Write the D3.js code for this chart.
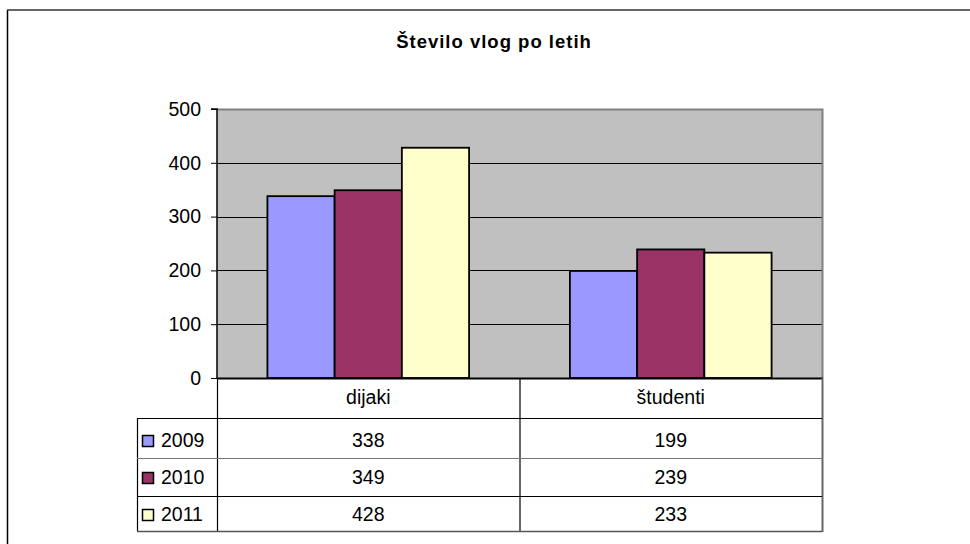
<!DOCTYPE html>
<html>
<head>
<meta charset="utf-8">
<script src="https://cdn.jsdelivr.net/npm/d3@7"></script>
<style>
  html, body { margin: 0; padding: 0; background: #fff; }
  svg { display: block; font-family: "Liberation Sans", Arial, sans-serif; }
</style>
</head>
<body>
<svg id="chart" width="970" height="544"></svg>
<script>
const title = "Število vlog po letih";
const categories = ["dijaki", "študenti"];
const seriesNames = ["2009", "2010", "2011"];
const values2009 = [338, 199];
const values2010 = [349, 239];
const values2011 = [428, 233];
const seriesColors = ["#9999FF", "#993366", "#FFFFCC"];
const yTicks = [0, 100, 200, 300, 400, 500];

const series = [
  { name: seriesNames[0], values: values2009, color: seriesColors[0] },
  { name: seriesNames[1], values: values2010, color: seriesColors[1] },
  { name: seriesNames[2], values: values2011, color: seriesColors[2] }
];

const FS = 19.5;
const svg = d3.select("#chart");

// outer frame (left + top)
svg.append("line").attr("x1", 7.5).attr("x2", 7.5).attr("y1", 10).attr("y2", 544)
  .attr("stroke", "#000").attr("stroke-width", 1.5);
svg.append("line").attr("x1", 7).attr("x2", 970).attr("y1", 10).attr("y2", 10)
  .attr("stroke", "#333").attr("stroke-width", 1.5);

// title
svg.append("text").attr("x", 494).attr("y", 48).attr("text-anchor", "middle")
  .attr("font-size", 18.5).attr("font-weight", "bold").attr("letter-spacing", 1)
  .attr("fill", "#000").text(title);

const plotL = 217, plotR = 822, plotT = 109, plotB = 378;

const x0 = d3.scaleBand().domain(categories).range([plotL, plotR]).padding(0);
const x1 = d3.scaleBand().domain(seriesNames).range([0, x0.bandwidth()])
  .paddingInner(0).paddingOuter(0.75);
const y = d3.scaleLinear().domain([0, 500]).range([plotB, plotT]);

// plot background
svg.append("rect").attr("x", plotL).attr("y", plotT)
  .attr("width", plotR - plotL).attr("height", plotB - plotT).attr("fill", "#C0C0C0");

// gridlines
svg.append("g").selectAll("line").data(yTicks.filter(t => t > 0 && t < 500)).join("line")
  .attr("x1", plotL).attr("x2", plotR)
  .attr("y1", d => Math.round(y(d)) + 0.5).attr("y2", d => Math.round(y(d)) + 0.5)
  .attr("stroke", "#000").attr("stroke-width", 1);

// plot border top/right (gray)
svg.append("path")
  .attr("d", `M${plotL},${plotT + 0.5}H${plotR + 0.5}V${plotB}`)
  .attr("fill", "none").attr("stroke", "#808080").attr("stroke-width", 2);

// bars
const groups = svg.append("g").selectAll("g").data(series).join("g")
  .attr("fill", d => d.color);
groups.selectAll("rect").data(s => categories.map((c, i) => ({ cat: c, s: s.name, v: s.values[i] })))
  .join("rect")
  .attr("x", d => x0(d.cat) + x1(d.s))
  .attr("y", d => y(d.v))
  .attr("width", x1.bandwidth())
  .attr("height", d => y(0) - y(d.v))
  .attr("stroke", "#000").attr("stroke-width", 1.8);

// y axis
const yAxis = d3.axisLeft(y).tickValues(yTicks).tickSize(6).tickPadding(10);
const yg = svg.append("g").attr("transform", `translate(${plotL},0)`).call(yAxis);
yg.select(".domain").attr("stroke", "#000").attr("stroke-width", 1.5)
  .attr("d", `M-6,${plotT}H0V${plotB}`);
yg.selectAll(".tick line").attr("stroke", "#000").attr("stroke-width", 1);
yg.selectAll(".tick text").attr("font-size", FS).attr("fill", "#000")
  .attr("font-family", "Liberation Sans, Arial, sans-serif");

// x axis baseline
svg.append("line").attr("x1", plotL).attr("x2", plotR + 1).attr("y1", plotB + 0.5).attr("y2", plotB + 0.5)
  .attr("stroke", "#000").attr("stroke-width", 2);

// data table
const tableL = 137;
const rowLines = [418, 458, 496, 531];
const tbl = svg.append("g");
const vx = [plotL, x0(categories[1])];
vx.forEach(xv => {
  tbl.append("line").attr("x1", xv + 0.5).attr("x2", xv + 0.5).attr("y1", plotB).attr("y2", 531)
    .attr("stroke", "#000").attr("stroke-width", 1.2);
});
tbl.append("line").attr("x1", plotR + 0.5).attr("x2", plotR + 0.5).attr("y1", plotB).attr("y2", 532)
  .attr("stroke", "#666").attr("stroke-width", 2);
tbl.append("line").attr("x1", tableL + 0.5).attr("x2", tableL + 0.5).attr("y1", 418).attr("y2", 531)
  .attr("stroke", "#000").attr("stroke-width", 1.2);
rowLines.forEach((ry, i) => {
  tbl.append("line").attr("x1", tableL).attr("x2", plotR)
    .attr("y1", ry + 0.5).attr("y2", ry + 0.5)
    .attr("stroke", i === 1 ? "#777" : (i === 3 ? "#555" : "#000"))
    .attr("stroke-width", i === 3 ? 1.6 : 1.2);
});
tbl.selectAll("text.hdr").data(categories).join("text").attr("class", "hdr")
  .attr("x", d => x0(d) + x0.bandwidth() / 2).attr("y", 404)
  .attr("text-anchor", "middle").attr("font-size", FS).attr("fill", "#000")
  .text(d => d);
const baselines = [447, 484, 521];
series.forEach((s, r) => {
  tbl.append("rect").attr("x", 142.5).attr("y", baselines[r] - 11.5)
    .attr("width", 11).attr("height", 11).attr("fill", s.color)
    .attr("stroke", "#000").attr("stroke-width", 1.5);
  tbl.append("text").attr("x", 161).attr("y", baselines[r])
    .attr("font-size", FS).attr("fill", "#000").text(s.name);
  categories.forEach((c, i) => {
    tbl.append("text").attr("x", x0(c) + x0.bandwidth() / 2).attr("y", baselines[r])
      .attr("text-anchor", "middle").attr("font-size", FS).attr("fill", "#000")
      .text(s.values[i]);
  });
});
</script>
</body>
</html>
